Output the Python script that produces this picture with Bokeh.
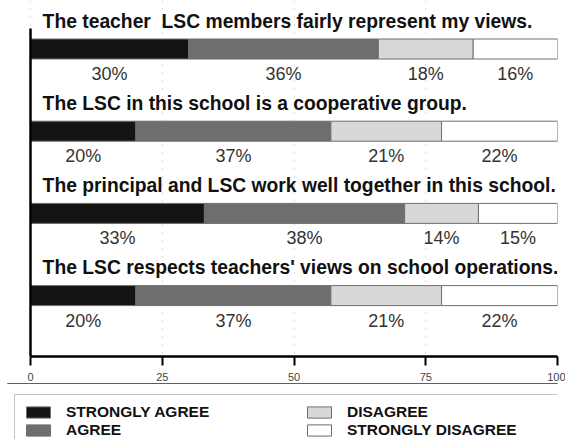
from bokeh.plotting import figure
from bokeh.layouts import column
from bokeh.models import Range1d, Legend, LegendItem, FixedTicker, ColumnDataSource
from bokeh.core.properties import value
from bokeh.embed import file_html
from bokeh.resources import INLINE

# ---------------- data ----------------
questions = [
    "The teacher\u00a0 LSC members fairly represent my views.",
    "The LSC in this school is a cooperative group.",
    "The principal and LSC work well together in this school.",
    "The LSC respects teachers' views on school operations.",
]
strongly_agree = [30, 20, 33, 20]
agree = [36, 37, 38, 37]
disagree = [18, 21, 14, 21]
strongly_disagree = [16, 22, 15, 22]
series_names = ["STRONGLY AGREE", "AGREE", "DISAGREE", "STRONGLY DISAGREE"]
x_ticks = [0, 25, 50, 75, 100]

# ---------------- styles / layout ----------------
fills = ["#141414", "#6e6e6e", "#d8d8d8", "#ffffff"]
ROW_TOP = 48.5      # y units are page pixels (inverted range)
ROW_STEP = 82.2
BAR_H = 20
TITLE_OFF = -28
LABEL_OFF = 25
TITLE_X = 2.3
AXIS_TOP = 28
AXIS_BOTTOM = 356
FRAME_LEFT = 7          # page px where the frames start
ZERO_PX = 30            # page px of x = 0
HUNDRED_PX = 557        # page px of x = 100
X_START = -100.0 * (ZERO_PX - FRAME_LEFT) / (HUNDRED_PX - ZERO_PX)

series = [strongly_agree, agree, disagree, strongly_disagree]
n = len(questions)
row_y = [ROW_TOP + i * ROW_STEP for i in range(n)]

p = figure(frame_width=HUNDRED_PX - FRAME_LEFT, frame_height=AXIS_BOTTOM,
           x_range=Range1d(X_START, 100), y_range=Range1d(AXIS_BOTTOM, 0),
           output_backend="svg", toolbar_location=None,
           min_border_left=FRAME_LEFT, min_border_right=8,
           min_border_top=0, min_border_bottom=0)
p.outline_line_color = None
p.background_fill_color = "white"
p.border_fill_color = "white"

# grid
p.xgrid.ticker = FixedTicker(ticks=x_ticks)
p.xgrid.grid_line_color = "#8a8a8a"
p.xgrid.grid_line_dash = "1 7"
p.xgrid.grid_line_alpha = 0.6
p.ygrid.grid_line_color = None

# bars
sources = []
left = [0] * n
for k, vals in enumerate(series):
    right = [l + v for l, v in zip(left, vals)]
    src = ColumnDataSource(dict(y=row_y, left=left, right=right))
    sources.append(src)
    p.hbar(y="y", left="left", right="right", height=BAR_H, source=src,
           fill_color=fills[k], line_color="#6f6f6f", line_width=1)
    lab = ColumnDataSource(dict(
        x=[l + v / 2 for l, v in zip(left, vals)],
        y=[yy + LABEL_OFF for yy in row_y],
        t=[f"{v}%" for v in vals]))
    p.text(x="x", y="y", text="t", source=lab,
           text_align="center", text_baseline="middle",
           text_font=value("Liberation Sans Narrow, Liberation Sans, sans-serif"),
           text_font_size="18px", text_color="#333333")
    left = right

# question titles
tsrc = ColumnDataSource(dict(x=[TITLE_X] * n, y=[yy + TITLE_OFF for yy in row_y], t=questions))
p.text(x="x", y="y", text="t", source=tsrc, text_align="left", text_baseline="middle",
       text_font=value("Liberation Sans"), text_font_style="bold",
       text_font_size="19.3px", text_color="#111111")

# axes
xa = p.xaxis[0]
xa.ticker = FixedTicker(ticks=x_ticks)
xa.bounds = (0, 100)
xa.axis_line_width = 2.5
xa.axis_line_color = "black"
xa.major_tick_out = 9
xa.major_tick_in = 0
xa.major_tick_line_width = 2
xa.minor_tick_line_color = None
xa.major_label_text_font = "Liberation Sans"
xa.major_label_text_font_size = "11px"
xa.major_label_text_color = "#444444"
xa.major_label_standoff = 7

ya = p.yaxis[0]
ya.ticker = FixedTicker(ticks=[])
ya.bounds = (AXIS_TOP, AXIS_BOTTOM)
ya.fixed_location = 0
ya.axis_line_width = 2.5
ya.axis_line_color = "black"
ya.minor_tick_line_color = None
ya.major_tick_line_color = None
ya.major_tick_out = 0
ya.major_tick_in = 0
ya.major_label_standoff = 0

# ---------------- legend panel ----------------
q = figure(width=565, height=56, x_range=Range1d(0, 1), y_range=Range1d(0, 1),
           output_backend="svg", toolbar_location=None,
           x_axis_location=None, y_axis_location=None,
           min_border_left=FRAME_LEFT, min_border_right=8, min_border_top=0, min_border_bottom=0)
q.xgrid.grid_line_color = None
q.ygrid.grid_line_color = None
q.outline_line_color = None
q.border_fill_color = "white"

# legend proxies share the bar data (outside this panel's ranges, so not drawn)
leg_renderers = []
for k, src in enumerate(sources):
    leg_renderers.append(q.hbar(y="y", left="left", right="right", height=BAR_H, source=src,
                                fill_color=fills[k], line_color="#6f6f6f", line_width=1))

legend = Legend(
    items=[LegendItem(label=nm, renderers=[r]) for nm, r in zip(series_names, leg_renderers)],
    orientation="vertical", nrows=2, location=(7, -9),
    label_text_font="Liberation Sans", label_text_font_style="bold",
    label_text_font_size="15.5px", label_text_color="#111111",
    glyph_width=30, glyph_height=14, label_standoff=13,
    label_width=238, label_height=16, spacing=0, padding=8, margin=0,
    border_line_color="#888888", border_line_width=1.5,
    background_fill_color="white", background_fill_alpha=1.0)
q.add_layout(legend, "center")

open("out.html", "w").write(file_html(column(p, q, spacing=0), INLINE))
